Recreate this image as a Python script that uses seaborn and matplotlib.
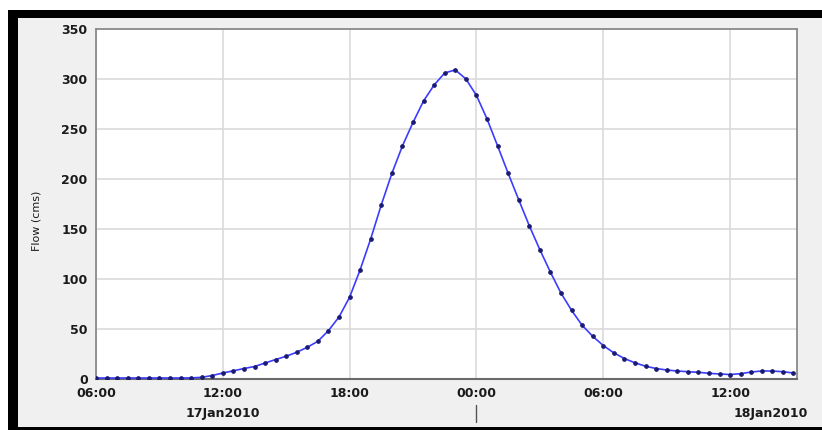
import matplotlib
matplotlib.use("Agg")
import matplotlib.pyplot as plt
import matplotlib.dates as mdates
from matplotlib.patches import Rectangle
from matplotlib.lines import Line2D
import seaborn as sns
import pandas as pd
import numpy as np

# flow hydrograph, 30 minute steps from 06:00 17Jan2010 to 15:00 18Jan2010
start_time = "2010-01-17 06:00"
flow_day1 = [0.5, 0.5, 0.5, 0.5, 0.5, 0.5, 0.5, 0.5, 0.5, 0.6,
             1.2, 3.0, 5.5, 7.7, 10, 12, 15.5, 19, 22.3, 26.3,
             31.3, 37.3, 48, 61.7, 81.5, 109, 140, 174, 205.5, 233,
             256.5, 278, 294, 306, 309, 300]
flow_day2 = [283.5, 260, 233, 205.5, 179, 153, 129, 106.5, 85.5, 68.3,
             53.3, 42.3, 33, 25.7, 20, 15.7, 12.3, 10, 8.5, 7.5,
             6.8, 6.2, 5.2, 4.5, 4.0, 4.8, 6.5, 7.5, 7.5, 6.8, 5.5]
y_ticks = [0, 50, 100, 150, 200, 250, 300, 350]
date_labels = ["17Jan2010", "18Jan2010"]

flow = flow_day1 + flow_day2
times = pd.date_range(start_time, periods=len(flow), freq="30min")
df = pd.DataFrame({"time": times, "flow": flow})

sns.set_style("white")
plt.rcParams["font.family"] = ["DejaVu Sans"]

W, H = 822, 430
fig = plt.figure(figsize=(W / 100, H / 100), dpi=100)
fig.patch.set_facecolor("white")

# black frame + grey panel around the plot (drawn on a background axes)
bg = fig.add_axes([0, 0, 1, 1], zorder=-5)
bg.set_axis_off()
bg.set_xlim(0, W)
bg.set_ylim(H, 0)
bg.add_patch(Rectangle((8, 10), W, H, facecolor="black", edgecolor="none"))
bg.add_patch(Rectangle((18, 18), W, 409, facecolor="#f0f0f0", edgecolor="none"))

ax = fig.add_axes([96 / W, 1 - 378.5 / H, 701 / W, 349.5 / H])
ax.set_facecolor("white")

sns.lineplot(data=df, x="time", y="flow", ax=ax, color="#3c3cff", linewidth=1.2,
             marker="o", markersize=2.6, markerfacecolor="#1a1a70",
             markeredgecolor="#1a1a70", zorder=3)

ax.set_ylim(0, 350)
ax.set_yticks(y_ticks)
ax.set_xlim(pd.Timestamp("2010-01-17 06:00"), pd.Timestamp("2010-01-18 15:10"))
ax.xaxis.set_major_locator(mdates.HourLocator(byhour=[0, 6, 12, 18]))
ax.xaxis.set_major_formatter(mdates.DateFormatter("%H:%M"))

ax.grid(True, color="#dadada", linewidth=1.2)
for side in ["left", "right", "top"]:
    ax.spines[side].set_color("#8a8a8a")
    ax.spines[side].set_linewidth(1.3)
ax.spines["bottom"].set_color("#6a6a6a")
ax.spines["bottom"].set_linewidth(1.5)

ax.tick_params(axis="both", which="major", length=3, width=1, color="#8a8a8a",
               labelsize=9, pad=3, labelcolor="#1a1a1a")
for lab in ax.get_xticklabels() + ax.get_yticklabels():
    lab.set_fontweight("bold")

ax.set_xlabel("")
ax.set_ylabel("Flow (cms)", fontsize=8, color="#1a1a1a")
ax.yaxis.set_label_coords(-0.078, 0.45)

# day labels under the time labels
trans = ax.get_xaxis_transform()
ax.text(pd.Timestamp("2010-01-17 12:00"), -0.099, date_labels[0], transform=trans,
        ha="center", va="center", fontsize=9, fontweight="bold", color="#1a1a1a")
ax.text(pd.Timestamp("2010-01-18 15:40"), -0.099, date_labels[1], transform=trans,
        ha="right", va="center", fontsize=9, fontweight="bold", color="#1a1a1a")
midnight = mdates.date2num(pd.Timestamp("2010-01-18 00:00"))
ax.add_line(Line2D([midnight, midnight], [-0.076, -0.124], transform=trans,
                   color="#555555", linewidth=1.0, clip_on=False))

fig.savefig("out.png", dpi=100)
